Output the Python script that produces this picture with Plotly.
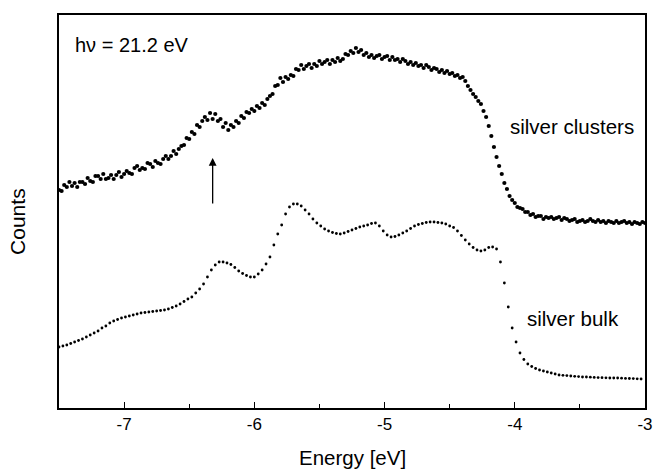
import plotly.graph_objects as go

# ---- data (arbitrary count units) ----
cluster_e_start = -7.5
cluster_e_step = 0.02
cluster_counts = [
    218, 217, 223, 221, 226, 222, 225, 221, 226, 226,
    224, 230, 227, 226, 232, 232, 229, 234, 229, 230,
    233, 229, 233, 236, 231, 234, 237, 235, 234, 240,
    242, 238, 240, 239, 245, 244, 241, 247, 245, 244,
    249, 252, 249, 252, 257, 254, 259, 262, 263, 270,
    269, 276, 274, 283, 281, 287, 291, 288, 295, 289,
    294, 287, 289, 281, 285, 278, 283, 281, 287, 285,
    292, 290, 296, 295, 299, 297, 302, 300, 305, 303,
    309, 312, 314, 322, 323, 330, 326, 331, 329, 333,
    332, 339, 338, 343, 339, 342, 344, 340, 344, 342,
    347, 344, 346, 348, 344, 348, 346, 350, 347, 349,
    354, 353, 357, 355, 360, 356, 358, 353, 355, 351,
    353, 350, 352, 353, 349, 351, 352, 348, 351, 348,
    349, 346, 349, 347, 344, 346, 343, 345, 342, 343,
    340, 343, 341, 338, 340, 339, 336, 338, 335, 337,
    334, 335, 332, 333, 330, 331, 327, 322, 318, 314,
    311, 307, 304, 297, 291, 282, 272, 261, 251, 242,
    234, 225, 219, 212, 208, 205, 201, 200, 199, 196,
    196, 193, 194, 191, 192, 192, 189, 191, 190, 191,
    189, 190, 191, 188, 190, 189, 187, 188, 189, 186,
    187, 188, 186, 187, 189, 187, 186, 188, 186, 187,
    185, 187, 186, 185, 187, 185, 186, 187, 185, 186,
    184, 186, 185, 184, 186, 185,
]

bulk_e_start = -7.5
bulk_e_step = 0.03
bulk_counts = [
    61, 62, 63, 64.5, 66, 67.5, 69, 71, 73, 75,
    77, 80, 82, 85, 87, 88.5, 90, 91, 92, 93,
    94, 95, 95.5, 96, 96.5, 97, 97.5, 98, 99, 100.5,
    102, 104, 106.5, 109, 111, 115, 119, 124, 131, 138,
    143, 146, 146, 145, 143.5, 140.5, 137, 134.5, 132.5, 131,
    131, 134, 138, 144, 151, 163, 174, 183, 194, 201,
    204, 204, 202, 198, 194, 189, 185, 182, 179, 177,
    175.5, 174.5, 174, 175, 176.5, 178, 179.5, 181, 182, 183,
    184.5, 185, 182, 177, 173, 171, 171.5, 173, 175, 177,
    179.5, 182, 183.5, 184.5, 185.5, 186, 186, 185.5, 185, 184,
    182, 180.5, 177, 172.5, 168, 164, 160.5, 158, 157, 158,
    160.5, 161, 159, 146, 125, 101, 80, 66, 55, 48.5,
    44, 41.5, 39.5, 38, 37, 36, 35, 34, 33, 32.7,
    32.4, 32, 31.7, 31.4, 31, 31, 30.8, 30.6, 30.4, 30.3,
    30.2, 30, 30, 30, 29.8, 29.6, 29.5, 29.4, 29.2, 29,
]

x_ticks = [-7, -6, -5, -4, -3]
x_tick_labels = ["-7", "-6", "-5", "-4", "-3"]

photon_label = "hν = 21.2 eV"
cluster_label = "silver clusters"
bulk_label = "silver bulk"
arrow_energy = -6.32
arrow_base = 203
arrow_tip = 250

cluster_e = [cluster_e_start + i * cluster_e_step for i in range(len(cluster_counts))]
bulk_e = [bulk_e_start + i * bulk_e_step for i in range(len(bulk_counts))]

FONT = "Arial, 'Liberation Sans', Helvetica, sans-serif"

fig = go.Figure()
fig.add_trace(go.Scatter(
    x=cluster_e, y=cluster_counts, mode="markers",
    marker=dict(size=4.2, color="black"), name=cluster_label, cliponaxis=True,
))
fig.add_trace(go.Scatter(
    x=bulk_e, y=bulk_counts, mode="markers",
    marker=dict(size=2.8, color="black"), name=bulk_label, cliponaxis=True,
))

fig.add_annotation(x=-7.39, y=363, text=photon_label, showarrow=False,
                   xanchor="left", yanchor="middle", font=dict(size=20, color="black"))
fig.add_annotation(x=-3.563, y=282, text=cluster_label, showarrow=False,
                   xanchor="center", yanchor="middle", font=dict(size=20.5, color="black"))
fig.add_annotation(x=-3.555, y=90, text=bulk_label, showarrow=False,
                   xanchor="center", yanchor="middle", font=dict(size=20.5, color="black"))
fig.add_annotation(x=arrow_energy, y=arrow_tip, ax=arrow_energy, ay=arrow_base,
                   xref="x", yref="y", axref="x", ayref="y", text="",
                   showarrow=True, arrowhead=2, arrowsize=1.2, arrowwidth=1.3,
                   arrowcolor="black")

fig.add_annotation(x=0.5, y=-0.125, xref="paper", yref="paper", text="Energy [eV]",
                   showarrow=False, xanchor="center", yanchor="middle",
                   font=dict(size=20.5, color="black"))
fig.add_annotation(x=-0.07, y=0.476, xref="paper", yref="paper", text="Counts",
                   showarrow=False, xanchor="center", yanchor="middle", textangle=-90,
                   font=dict(size=21, color="black"))

fig.update_layout(
    width=653, height=470,
    margin=dict(l=59, r=8, t=15, b=62),
    paper_bgcolor="white", plot_bgcolor="white",
    showlegend=False,
    font=dict(family=FONT, color="black"),
    xaxis=dict(
        range=[-7.5, -3.0], tickvals=x_ticks, ticktext=x_tick_labels,
        ticks="inside", ticklen=6, tickwidth=1.3, tickcolor="black",
        minor=dict(dtick=0.5, tick0=-7.5, ticks="inside", ticklen=4, tickwidth=1.2, tickcolor="black"),
        showline=True, linewidth=1.6, linecolor="black", mirror=True,
        showgrid=False, zeroline=False, automargin=False,
        tickfont=dict(size=17, color="black"),
    ),
    yaxis=dict(
        range=[0, 393], showticklabels=False, ticks="",
        showline=True, linewidth=1.6, linecolor="black", mirror=True,
        showgrid=False, zeroline=False, automargin=False,
    ),
)

fig.write_html(
    "out.html",
    config={"displayModeBar": False},
    post_script="document.body.style.margin='0';document.body.style.overflow='hidden';",
)
